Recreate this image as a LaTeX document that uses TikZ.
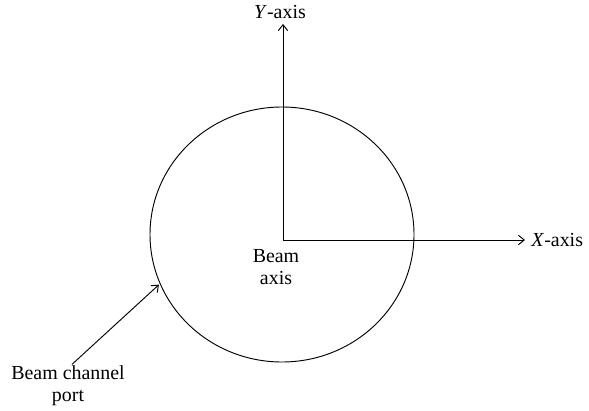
\documentclass[tikz,border=0pt]{standalone}
\usepackage{fontspec}
\setmainfont{Liberation Serif}
\usetikzlibrary{arrows.meta, shapes.geometric}

\begin{document}
\begin{tikzpicture}[x=0.03cm, y=0.03cm, line width=0.8pt,
      >={Straight Barb[length=5pt, width=8pt]},
      axis/.style={->},
      lbl/.style={font=\fontsize{17}{19}\selectfont, inner sep=0pt, align=center}]

    % ---- Frame ----
    \useasboundingbox (0,0) rectangle (589,410);

    % ---- Layout ----
    \def\ox{283}    % origin x
    \def\oy{170}    % origin y

    % ---- Port (ellipse) ----
    \node[draw, ellipse, minimum width=264*0.03cm, minimum height=255*0.03cm,
          inner sep=0pt] (port) at (282, 175.5) {};

    % ---- Axes ----
    \coordinate (origin) at (\ox, \oy);
    \coordinate (ytip) at (\ox, 386);
    \coordinate (xtip) at (525, \oy);
    \draw[axis] (origin) -- (ytip);
    \draw[axis] (origin) -- (xtip);
    \node[lbl, anchor=south] (ylbl) at (280, 391) {\textit{Y}-axis};
    \node[lbl, anchor=west]  (xlbl) at (531, \oy) {\textit{X}-axis};

    % ---- Labels ----
    \node[lbl] (beam) at (276, 143) {Beam\\axis};
    \node[lbl] (portlbl) at (68, 24) {Beam channel\\port};
    \draw[->, shorten >=1pt] (portlbl.north) ++(4,1) coordinate (pstart) -- (port.202);

\end{tikzpicture}
\end{document}
